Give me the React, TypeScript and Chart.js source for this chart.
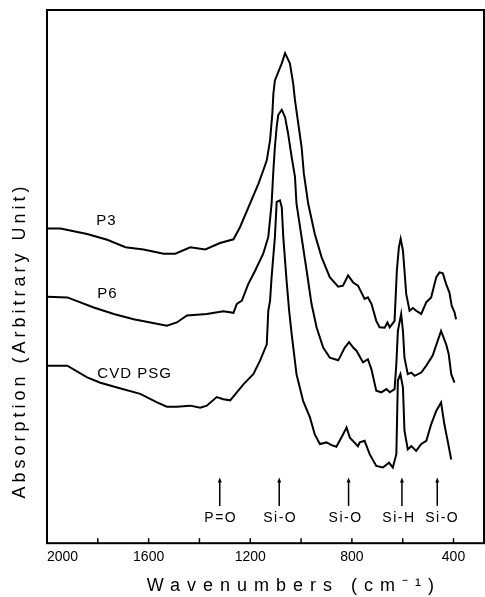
import React, { useEffect, useRef } from "react";
import { Chart, registerables } from "chart.js";

Chart.register(...registerables);

// ---- Data (wavenumber in cm^-1, absorption in arbitrary units) ----
const p3Wavenumbers = [2000,1947,1842,1763,1691,1620,1541,1495,1436,1377,1319,1266,1240,1201,1168,1149,1135,1122,1113,1109,1103,1076,1063,1044,1031,1024,1011,998,989,972,946,919,887,854,835,815,795,776,750,737,723,704,691,671,660,651,632,623,615,608,599,586,573,560,547,527,507,488,468,455,442,429,416,407,396,390];
const p3Absorption = [59.0,59.0,58.0,56.9,55.5,55.1,54.3,54.3,55.5,55.1,56.3,57.0,59.3,63.7,67.4,69.9,71.8,75.6,80.6,84.3,86.8,90.0,91.9,90.0,86.2,83.1,78.7,74.3,69.3,63.7,58.0,53.6,49.9,48.1,48.3,50.2,48.9,48.3,45.8,46.1,44.9,41.7,40.5,40.4,41.4,40.5,41.7,51.1,55.5,57.1,54.9,46.7,43.6,44.1,43.6,43.0,45.2,46.1,49.9,50.8,50.6,48.6,47.0,44.5,43.3,42.0];

const p6Wavenumbers = [2000,1920,1816,1737,1659,1593,1528,1489,1449,1371,1306,1266,1253,1233,1208,1181,1149,1129,1116,1109,1103,1096,1090,1076,1063,1051,1037,1024,1018,998,978,959,939,913,887,854,848,828,811,795,782,756,737,723,704,684,664,651,632,625,619,606,599,593,580,566,553,527,507,482,462,449,429,419,409,396];
const p6Absorption = [46.2,46.1,44.2,43.0,42.0,41.4,40.8,41.4,42.7,43.0,43.5,43.2,44.9,45.5,48.6,51.1,54.3,57.4,63.7,69.9,74.3,78.1,80.3,81.3,79.9,76.8,72.4,68.7,63.7,57.4,51.1,44.9,40.5,36.7,34.8,34.3,34.8,36.7,37.7,36.7,36.1,33.9,34.5,32.6,28.6,28.3,28.9,28.3,28.9,33.6,39.8,43.0,39.8,34.8,31.7,32.0,31.4,32.0,33.3,35.2,38.0,39.8,37.3,35.5,31.7,30.1];

const cvdWavenumbers = [2000,1920,1842,1790,1724,1633,1567,1528,1489,1436,1397,1371,1332,1306,1279,1227,1188,1162,1135,1129,1122,1116,1103,1096,1083,1076,1070,1057,1047,1037,1018,992,965,946,926,900,880,861,835,821,808,776,769,750,730,704,678,654,639,625,619,609,599,593,580,566,547,527,507,488,468,449,436,423,409];
const cvdAbsorption = [33.3,33.3,31.1,30.1,29.2,28.0,26.4,25.6,25.6,25.8,25.4,25.8,27.4,27.0,26.8,29.8,31.7,34.2,37.3,43.6,45.5,49.9,57.4,64.0,64.3,63.0,57.4,49.2,43.6,39.2,31.7,26.7,23.6,20.4,18.6,18.9,18.4,18.1,20.4,21.7,19.8,18.2,18.9,19.2,16.7,14.5,14.2,15.1,14.2,16.7,30.5,31.7,29.2,21.1,17.6,18.2,17.3,18.6,19.2,22.3,24.8,26.4,22.3,19.2,15.7];

const seriesNames = ["P3", "P6", "CVD PSG"];

const tickValues = [280, 400, 600, 800, 1000, 1200, 1400, 1600, 1800, 2000];
const labeledTicks = [400, 800, 1200, 1600, 2000];

const bandWavenumbers = [1320, 1086, 813, 603, 464];
const bandLabels = ["P=O", "Si-O", "Si-O", "Si-H", "Si-O"];

const xTitle = "Wavenumbers (cm\u207B\u00B9)";
const yTitle = "Absorption (Arbitrary Unit)";

const FONT = '"Liberation Sans", Arial, sans-serif';

function toPoints(xs: number[], ys: number[]) {
  return xs.map((x, i) => ({ x, y: ys[i] }));
}

const decorPlugin = {
  id: "decor",
  afterDraw(chart: any) {
    const { ctx, chartArea: ca, scales } = chart;
    const x = scales.x;
    const y = scales.y;
    ctx.save();
    ctx.strokeStyle = "#000";
    ctx.fillStyle = "#000";
    ctx.lineWidth = 2;
    ctx.strokeRect(ca.left, ca.top, ca.right - ca.left, ca.bottom - ca.top);

    // inward tick marks
    ctx.lineWidth = 1.5;
    x.ticks.forEach((t: any) => {
      if (t.value >= 400 && t.value < 2000) {
        const px = x.getPixelForValue(t.value);
        ctx.beginPath();
        ctx.moveTo(px, ca.bottom);
        ctx.lineTo(px, ca.bottom - 5);
        ctx.stroke();
      }
    });

    // band arrows + labels
    const labelShift = [1, 1, -3, -3, 5];
    ctx.font = `14px ${FONT}`;
    (ctx as any).letterSpacing = "1.5px";
    ctx.textAlign = "center";
    ctx.textBaseline = "middle";
    bandWavenumbers.forEach((w, i) => {
      const px = x.getPixelForValue(w);
      const yb = y.getPixelForValue(7.0);
      const yt = y.getPixelForValue(12.3);
      ctx.lineWidth = 1.5;
      ctx.beginPath();
      ctx.moveTo(px, yb);
      ctx.lineTo(px, yt + 3);
      ctx.stroke();
      ctx.beginPath();
      ctx.moveTo(px, yt);
      ctx.lineTo(px - 2, yt + 5);
      ctx.lineTo(px + 2, yt + 5);
      ctx.closePath();
      ctx.fill();
      ctx.fillText(bandLabels[i], px + labelShift[i], y.getPixelForValue(4.7));
    });

    // series labels
    const labelAnchors = [
      [1806, 60.5],
      [1802, 46.7],
      [1802, 31.8],
    ];
    ctx.textAlign = "left";
    ctx.font = `15px ${FONT}`;
    (ctx as any).letterSpacing = "1px";
    seriesNames.forEach((n, i) => {
      ctx.fillText(n, x.getPixelForValue(labelAnchors[i][0]), y.getPixelForValue(labelAnchors[i][1]));
    });

    // axis titles
    ctx.font = `18px ${FONT}`;
    (ctx as any).letterSpacing = "7px";
    ctx.textAlign = "center";
    ctx.fillText(xTitle, ca.left + (ca.right - ca.left) * 0.565, ca.bottom + 43);

    ctx.save();
    ctx.translate(ca.left - 27, ca.top + (ca.bottom - ca.top) * 0.62);
    ctx.rotate(-Math.PI / 2);
    ctx.font = `18px ${FONT}`;
    (ctx as any).letterSpacing = "4px";
    ctx.fillText(yTitle, 0, 0);
    ctx.restore();

    ctx.restore();
  },
};

export default function App() {
  const canvasRef = useRef<HTMLCanvasElement | null>(null);

  useEffect(() => {
    if (!canvasRef.current) return;
    const lineStyle = {
      borderColor: "#000",
      borderWidth: 2,
      pointRadius: 0,
      tension: 0,
      fill: false,
    };
    const chart = new Chart(canvasRef.current, {
      type: "line",
      data: {
        datasets: [
          { label: seriesNames[0], data: toPoints(p3Wavenumbers, p3Absorption), ...lineStyle },
          { label: seriesNames[1], data: toPoints(p6Wavenumbers, p6Absorption), ...lineStyle },
          { label: seriesNames[2], data: toPoints(cvdWavenumbers, cvdAbsorption), ...lineStyle },
        ],
      },
      options: {
        animation: false,
        responsive: true,
        maintainAspectRatio: false,
        layout: { padding: { left: 47, top: 10, right: 1, bottom: 25 } },
        plugins: {
          legend: { display: false },
          tooltip: { enabled: false },
        },
        scales: {
          x: {
            type: "linear",
            reverse: true,
            min: 280,
            max: 2000,
            afterBuildTicks: (scale: any) => {
              scale.ticks = tickValues.map((v) => ({ value: v }));
            },
            grid: { display: false, drawTicks: false },
            border: { display: false },
            ticks: {
              align: "inner",
              padding: 6,
              autoSkip: false,
              maxRotation: 0,
              color: "#000",
              font: { family: FONT, size: 14 },
              callback: (v: any) => (labeledTicks.includes(Number(v)) ? String(v) : ""),
            },
          },
          y: {
            display: false,
            min: 0,
            max: 100,
          },
        },
      },
      plugins: [decorPlugin],
    } as any);
    return () => chart.destroy();
  }, []);

  return (
    <div style={{ position: "fixed", left: 0, top: 0, width: 485, height: 597, background: "#fff" }}>
      <canvas ref={canvasRef} />
    </div>
  );
}
